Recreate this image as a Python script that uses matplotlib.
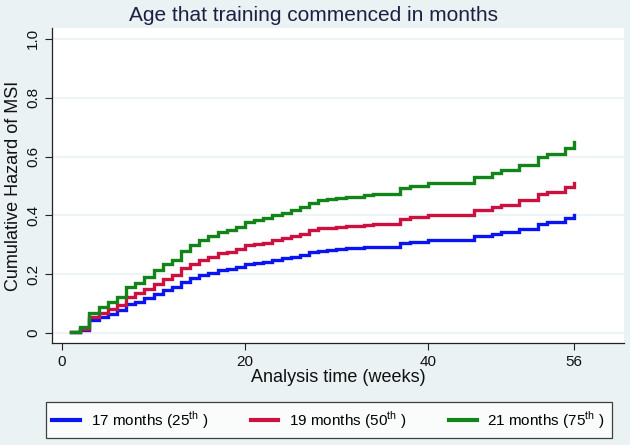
import matplotlib
matplotlib.use("Agg")
from matplotlib import pyplot as plt

plt.rcParams['font.family'] = ['Liberation Sans', 'DejaVu Sans']
plt.rcParams['mathtext.fontset'] = 'custom'
plt.rcParams['mathtext.rm'] = 'Liberation Sans'

# analysis time (weeks) at each step
weeks = [1, 2, 3, 4, 5, 6, 7, 8, 9, 10, 11, 12, 13, 14, 15, 16, 17, 18, 19, 20,
         21, 22, 23, 24, 25, 26, 27, 28, 29, 30, 31, 33, 34, 37, 38, 40, 45, 47,
         48, 50, 52, 53, 55, 56]

# cumulative hazard
haz_17 = [0.003, 0.009, 0.044, 0.055, 0.066, 0.077, 0.098, 0.107, 0.119, 0.133,
          0.146, 0.156, 0.175, 0.186, 0.196, 0.205, 0.214, 0.218, 0.225, 0.235,
          0.238, 0.242, 0.249, 0.254, 0.259, 0.267, 0.275, 0.280, 0.282, 0.285,
          0.288, 0.291, 0.293, 0.305, 0.310, 0.316, 0.330, 0.338, 0.344, 0.355,
          0.372, 0.378, 0.391, 0.402]
haz_19 = [0.004, 0.013, 0.055, 0.069, 0.081, 0.097, 0.124, 0.135, 0.150, 0.168,
          0.184, 0.196, 0.220, 0.235, 0.249, 0.260, 0.271, 0.275, 0.285, 0.298,
          0.302, 0.307, 0.316, 0.322, 0.329, 0.338, 0.349, 0.356, 0.358, 0.362,
          0.365, 0.369, 0.372, 0.387, 0.394, 0.401, 0.419, 0.429, 0.437, 0.451,
          0.472, 0.480, 0.496, 0.510]
haz_21 = [0.005, 0.020, 0.070, 0.088, 0.104, 0.124, 0.157, 0.171, 0.190, 0.214,
          0.235, 0.248, 0.280, 0.300, 0.316, 0.330, 0.345, 0.350, 0.362, 0.379,
          0.384, 0.390, 0.401, 0.409, 0.418, 0.430, 0.443, 0.452, 0.455, 0.460,
          0.464, 0.469, 0.473, 0.492, 0.500, 0.509, 0.532, 0.545, 0.555, 0.573,
          0.600, 0.610, 0.630, 0.648]

labels = ['17 months (25$^{\\mathrm{th}}$ )',
          '19 months (50$^{\\mathrm{th}}$ )',
          '21 months (75$^{\\mathrm{th}}$ )']
colors = ['#0a14f0', '#cc1040', '#13841a']

bg = '#eaf2f3'
fig = plt.figure(figsize=(6.3, 4.45), dpi=100, facecolor=bg)
ax = fig.add_axes([0.0825, 0.229, 0.9075, 0.708])
ax.set_facecolor('white')

for y, lab, c in zip([haz_17, haz_19, haz_21], labels, colors):
    ax.plot(weeks, y, drawstyle='steps-post', color=c, lw=2.4, label=lab,
            solid_joinstyle='miter')

ax.set_xlim(-1.1, 61.4)
ax.set_ylim(-0.034, 1.037)
ax.set_xticks([0, 20, 40, 56])
ax.set_yticks([0, 0.2, 0.4, 0.6, 0.8, 1.0])
ax.set_yticklabels(['0', '0.2', '0.4', '0.6', '0.8', '1.0'], rotation=90, va='center')
ax.tick_params(labelsize=11, length=5, width=0.8, color='#222222', labelcolor='#111111')
ax.grid(axis='y', color=bg, lw=1.2)
ax.set_axisbelow(True)
for s in ['top', 'right']:
    ax.spines[s].set_visible(False)
for s in ['left', 'bottom']:
    ax.spines[s].set_color('#222222')
    ax.spines[s].set_linewidth(0.9)

ax.set_xlabel('Analysis time (weeks)', fontsize=13, color='#111111', labelpad=0)
ax.set_ylabel('Cumulative Hazard of MSI', fontsize=13, color='#111111', labelpad=3)
fig.text(0.497, 0.966, 'Age that training commenced in months', ha='center',
         va='center', fontsize=15, color='#1c2143')

leg = fig.legend(loc='center', bbox_to_anchor=(0.5215, 0.056), ncol=3,
                 frameon=True, fancybox=False, fontsize=11, handlelength=1.8,
                 columnspacing=2.8, borderpad=0.45, handletextpad=0.7)
leg.get_frame().set_edgecolor('#111111')
leg.get_frame().set_linewidth(0.9)
for h in leg.get_lines():
    h.set_linewidth(3)

fig.savefig('out.png', dpi=100, facecolor=bg)
